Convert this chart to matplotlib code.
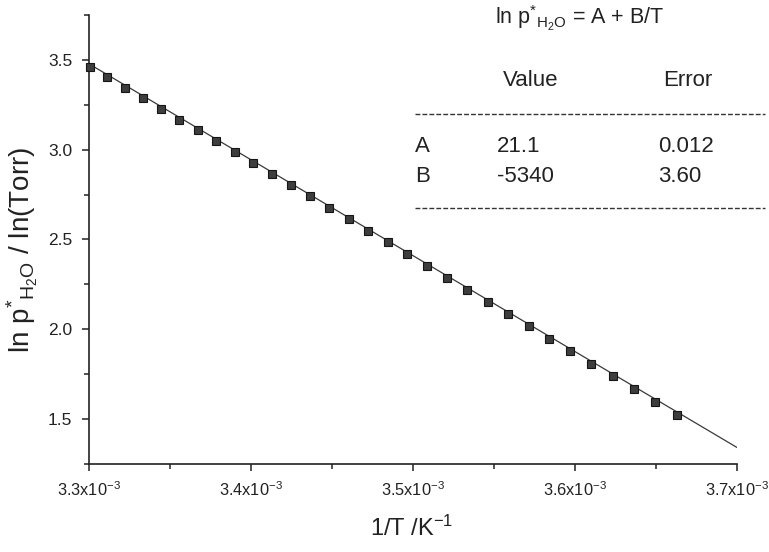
import numpy as np
import matplotlib
matplotlib.use("Agg")
import matplotlib.pyplot as plt
from matplotlib.lines import Line2D
from matplotlib.ticker import MultipleLocator, FixedLocator, FixedFormatter

plt.rcParams["font.family"] = ["Liberation Sans", "DejaVu Sans"]
plt.rcParams["mathtext.fontset"] = "custom"
plt.rcParams["mathtext.rm"] = "Liberation Sans"
plt.rcParams["mathtext.it"] = "Liberation Sans:italic"
plt.rcParams["mathtext.bf"] = "Liberation Sans:bold"

# Saturation vapour pressure of water, 0-30 degC
temperature_K = [303, 302, 301, 300, 299, 298, 297, 296, 295, 294, 293,
                 292, 291, 290, 289, 288, 287, 286, 285, 284, 283, 282,
                 281, 280, 279, 278, 277, 276, 275, 274, 273]
ln_p_torr = [3.460, 3.403, 3.345, 3.286, 3.227, 3.168, 3.108, 3.048,
             2.987, 2.926, 2.864, 2.802, 2.740, 2.676, 2.612, 2.549,
             2.484, 2.419, 2.353, 2.286, 2.220, 2.153, 2.086, 2.016,
             1.947, 1.878, 1.808, 1.739, 1.666, 1.595, 1.522]

# Linear fit ln p = A + B/T
fit_A, fit_A_err = 21.1, 0.012
fit_B, fit_B_err = -5340, 3.60
fit_range = [3.3e-3, 3.7e-3]

x_ticks = [3.3e-3, 3.4e-3, 3.5e-3, 3.6e-3, 3.7e-3]
x_tick_labels = [r"3.3x10$^{\mathregular{-3}}$", r"3.4x10$^{\mathregular{-3}}$",
                 r"3.5x10$^{\mathregular{-3}}$", r"3.6x10$^{\mathregular{-3}}$",
                 r"3.7x10$^{\mathregular{-3}}$"]
y_ticks = [1.5, 2.0, 2.5, 3.0, 3.5]
y_tick_labels = ["1.5", "2.0", "2.5", "3.0", "3.5"]

W, H = 769, 552
fig = plt.figure(figsize=(W / 100, H / 100), dpi=100)
fig.patch.set_facecolor("white")


def fx(px):
    return px / W


def fy(py):
    return 1 - py / H


ax = fig.add_axes([fx(89), fy(464), fx(737) - fx(89), fy(15) - fy(464)])

inv_T = 1.0 / np.array(temperature_K, dtype=float)
xf = np.array(fit_range)
ax.plot(xf, fit_A + fit_B * xf, color="#3a3a3a", lw=0.9, zorder=2)
ax.plot(inv_T, ln_p_torr, ls="none", marker="s", ms=6.4,
        mfc="#3d3d3d", mec="#151515", mew=0.8, zorder=3, clip_on=False)

ax.set_xlim(3.3e-3, 3.7e-3)
ax.set_ylim(1.25, 3.75)
ax.xaxis.set_major_locator(FixedLocator(x_ticks))
ax.xaxis.set_major_formatter(FixedFormatter(x_tick_labels))
ax.xaxis.set_minor_locator(MultipleLocator(0.05e-3))
ax.yaxis.set_major_locator(FixedLocator(y_ticks))
ax.yaxis.set_major_formatter(FixedFormatter(y_tick_labels))
ax.yaxis.set_minor_locator(MultipleLocator(0.25))

for s in ("top", "right"):
    ax.spines[s].set_visible(False)
for s in ("left", "bottom"):
    ax.spines[s].set_linewidth(1.2)
    ax.spines[s].set_color("#222222")
ax.tick_params(which="major", direction="out", length=5, width=1.1,
               color="#222222", labelcolor="#222222", pad=7)
ax.tick_params(axis="x", labelsize=11.8)
ax.tick_params(axis="y", labelsize=12.5)
ax.tick_params(which="minor", direction="out", length=3.5, width=1.1,
               color="#222222")

# axis titles
fig.text(fx(412), fy(528), r"1/T /K$^{\mathregular{-1}}$", ha="center",
         va="center", fontsize=17, color="#222222")
fig.text(fx(22), fy(250), r"ln p$^{*}$$_{\mathregular{H_2O}}$ / ln(Torr)",
         ha="center", va="center", rotation=90, fontsize=20, color="#222222")

# fit results table
tc = "#222222"
fs = 16
fig.text(fx(580), fy(18), r"ln p$^{*}$$_{\mathregular{H_2O}}$ = A + B/T",
         ha="center", va="center", fontsize=15.5, color=tc)
fig.text(fx(503), fy(80), "Value", ha="left", va="center", fontsize=fs, color=tc)
fig.text(fx(663), fy(80), "Error", ha="left", va="center", fontsize=fs, color=tc)
fig.text(fx(415), fy(146), "A", ha="left", va="center", fontsize=fs, color=tc)
fig.text(fx(497), fy(146), f"{fit_A:.1f}", ha="left", va="center", fontsize=fs, color=tc)
fig.text(fx(658), fy(146), f"{fit_A_err:.3f}", ha="left", va="center", fontsize=fs, color=tc)
fig.text(fx(415), fy(177), "B", ha="left", va="center", fontsize=fs, color=tc)
fig.text(fx(497), fy(177), f"{fit_B:d}", ha="left", va="center", fontsize=fs, color=tc)
fig.text(fx(658), fy(177), f"{fit_B_err:.2f}", ha="left", va="center", fontsize=fs, color=tc)
for yy in (114, 208):
    fig.add_artist(Line2D([fx(415), fx(765)], [fy(yy), fy(yy)], color="#333333",
                          lw=1.0, ls=(0, (3.5, 1.5)), transform=fig.transFigure))

fig.savefig("out.png", dpi=100, facecolor="white")
